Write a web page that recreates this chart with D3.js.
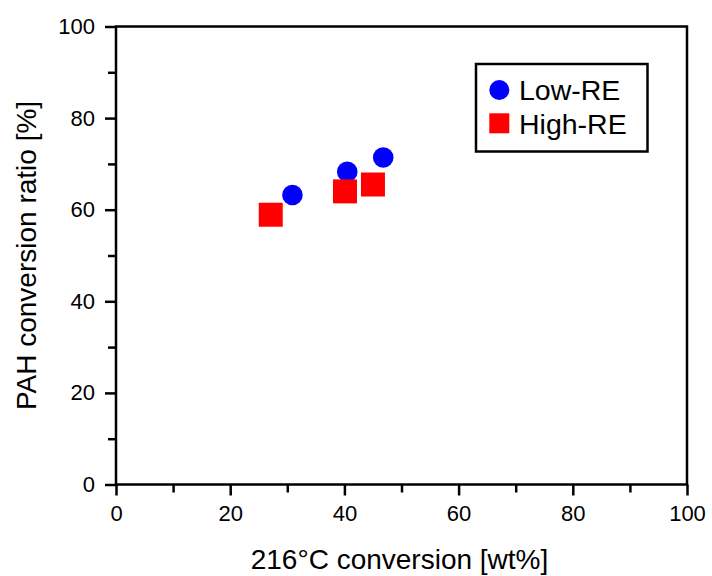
<!DOCTYPE html>
<html><head><meta charset="utf-8">
<script src="https://cdn.jsdelivr.net/npm/d3@7"></script>
<style>body{margin:0;background:#fff}svg{display:block}text{font-family:"Liberation Sans",Arial,sans-serif}</style>
</head><body><svg width="712" height="576"></svg>
<script>
const lowX = [30.9, 40.5, 46.8];
const lowY = [63.2, 68.3, 71.4];
const highX = [27.1, 40.1, 45.0];
const highY = [58.9, 64.0, 65.5];
const seriesNames = ["Low-RE", "High-RE"];
const majorTicks = [0, 20, 40, 60, 80, 100];
const minorTicks = [10, 30, 50, 70, 90];
const xTitle = "216°C conversion [wt%]";
const yTitle = "PAH conversion ratio [%]";

const svg = d3.select("svg");
const L = 116, R = 687, T = 26.5, B = 484.5;
const x = d3.scaleLinear().domain([0, 100]).range([L, R]);
const y = d3.scaleLinear().domain([0, 100]).range([B, T]);
const sw = 2.5;

// frame
svg.append("rect").attr("x", L).attr("y", T).attr("width", R - L).attr("height", B - T)
  .attr("fill", "none").attr("stroke", "#000").attr("stroke-width", sw);

// axes
const gx = svg.append("g").attr("transform", `translate(0,${B})`);
gx.call(d3.axisBottom(x).tickValues(majorTicks).tickSize(11).tickPadding(10).tickFormat(d3.format("d")));
gx.append("g").call(d3.axisBottom(x).tickValues(minorTicks).tickSize(8).tickFormat(""));
const gy = svg.append("g").attr("transform", `translate(${L},0)`);
gy.call(d3.axisLeft(y).tickValues(majorTicks).tickSize(11).tickPadding(10).tickFormat(d3.format("d")));
gy.append("g").call(d3.axisLeft(y).tickValues(minorTicks).tickSize(8).tickFormat(""));
svg.selectAll(".domain").remove();
svg.selectAll(".tick line").attr("stroke", "#000").attr("stroke-width", sw);
svg.selectAll(".tick text").attr("font-size", 22).attr("fill", "#000")
  .style("font-family", '"Liberation Sans",Arial,sans-serif');

// titles
svg.append("text").attr("x", (L + R) / 2 - 2).attr("y", 569).attr("text-anchor", "middle")
  .attr("font-size", 28).text(xTitle);
svg.append("text").attr("transform", `translate(36,${(T + B) / 2}) rotate(-90)`)
  .attr("text-anchor", "middle").attr("font-size", 28).text(yTitle);

// data
const low = lowX.map((v, i) => ({x: v, y: lowY[i]}));
const high = highX.map((v, i) => ({x: v, y: highY[i]}));
svg.append("g").selectAll("circle").data(low).join("circle")
  .attr("cx", d => x(d.x)).attr("cy", d => y(d.y)).attr("r", 10.3).attr("fill", "#0000ff");
const sq = 24;
svg.append("g").selectAll("rect").data(high).join("rect")
  .attr("x", d => x(d.x) - sq / 2).attr("y", d => y(d.y) - sq / 2)
  .attr("width", sq).attr("height", sq).attr("fill", "#ff0000");

// legend
const lg = svg.append("g");
lg.append("rect").attr("x", 476).attr("y", 64).attr("width", 171.5).attr("height", 87.5)
  .attr("fill", "#fff").attr("stroke", "#000").attr("stroke-width", sw);
lg.append("circle").attr("cx", 499.3).attr("cy", 90).attr("r", 10).attr("fill", "#0000ff");
lg.append("rect").attr("x", 489.3).attr("y", 113.3).attr("width", 20).attr("height", 20).attr("fill", "#ff0000");
lg.append("text").attr("x", 519).attr("y", 100).attr("font-size", 28.5).text(seriesNames[0]);
lg.append("text").attr("x", 519).attr("y", 133.5).attr("font-size", 28.5).text(seriesNames[1]);
</script></body></html>
